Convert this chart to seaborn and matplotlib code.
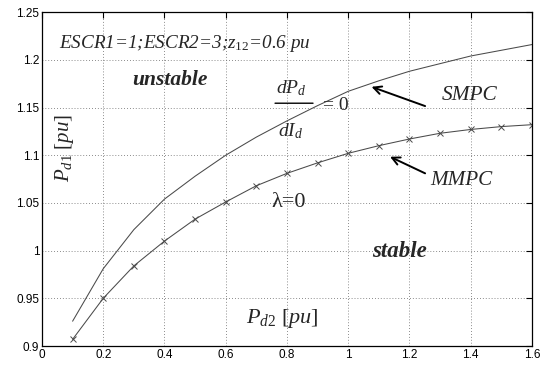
import matplotlib
matplotlib.use("Agg")
import matplotlib.pyplot as plt
import numpy as np
import pandas as pd
import seaborn as sns

# Active power of converter 2 (pu)
pd2 = [0.1, 0.2, 0.3, 0.4, 0.5, 0.6, 0.7, 0.8, 0.9, 1.0, 1.1, 1.2, 1.3, 1.4, 1.5, 1.6]
# Static maximum power curve (dPd/dId = 0)
smpc = [0.926, 0.981, 1.022, 1.054, 1.078, 1.100, 1.119, 1.136, 1.152, 1.167,
        1.178, 1.188, 1.196, 1.204, 1.210, 1.216]
# Modal maximum power curve (lambda = 0)
mmpc = [0.907, 0.950, 0.984, 1.010, 1.033, 1.051, 1.068, 1.081, 1.092, 1.102,
        1.110, 1.117, 1.123, 1.127, 1.130, 1.132]

x_ticks = [0, 0.2, 0.4, 0.6, 0.8, 1.0, 1.2, 1.4, 1.6]
x_labels = ["0", "0.2", "0.4", "0.6", "0.8", "1", "1.2", "1.4", "1.6"]
y_ticks = [0.9, 0.95, 1.0, 1.05, 1.1, 1.15, 1.2, 1.25]
y_labels = ["0.9", "0.95", "1", "1.05", "1.1", "1.15", "1.2", "1.25"]

sns.set_style("white")
plt.rcParams["font.family"] = ["Liberation Sans", "DejaVu Sans"]
plt.rcParams["mathtext.fontset"] = "custom"
plt.rcParams["mathtext.rm"] = "Liberation Serif"
plt.rcParams["mathtext.it"] = "Liberation Serif:italic"
plt.rcParams["mathtext.bf"] = "Liberation Serif:bold:italic"
plt.rcParams["mathtext.default"] = "it"

df = pd.DataFrame({"pd2": pd2 * 2,
                   "pd1": smpc + mmpc,
                   "curve": ["SMPC"] * len(pd2) + ["MMPC"] * len(pd2)})

fig = plt.figure(figsize=(5.48, 3.67), dpi=100)
ax = fig.add_axes([0.0766, 0.0572, 0.8942, 0.9098])

line_col = "#4a4a4a"
sns.lineplot(data=df[df.curve == "SMPC"], x="pd2", y="pd1", ax=ax,
             color=line_col, linewidth=0.75, legend=False)
sns.lineplot(data=df[df.curve == "MMPC"], x="pd2", y="pd1", ax=ax,
             color=line_col, linewidth=0.75, marker="x", markersize=5,
             markeredgewidth=0.7, markeredgecolor=line_col, legend=False)

ax.set_xlim(0, 1.6)
ax.set_ylim(0.9, 1.25)
ax.set_xticks(x_ticks)
ax.set_xticklabels(x_labels)
ax.set_yticks(y_ticks)
ax.set_yticklabels(y_labels)
ax.set_xlabel("")
ax.set_ylabel("")
ax.tick_params(direction="in", length=4, width=0.8, labelsize=8.5,
               top=True, right=True, pad=2, colors="black")
for s in ax.spines.values():
    s.set_visible(True)
    s.set_color("black")
    s.set_linewidth(0.9)
ax.grid(True, linestyle=(0, (1, 2.5)), color="#666666", linewidth=0.6)

serif = ["Liberation Serif", "DejaVu Serif"]

ax.text(0.054, 1.2175, r"ESCR1=1;ESCR2=3;$z_{12}$=0.6 pu", family=serif,
        style="italic", fontsize=13.8, ha="left", va="center")
ax.text(0.418, 1.1787, "unstable", family=serif, style="italic",
        weight="bold", fontsize=15.5, ha="center", va="center")
ax.text(1.169, 0.999, "stable", family=serif, style="italic",
        weight="bold", fontsize=16.5, ha="center", va="center")
ax.text(0.806, 1.05, "λ=0", family=serif, fontsize=16,
        ha="center", va="center")
ax.text(0.0735, 1.108, r"$P_{d1}\ \mathrm{[}pu\mathrm{]}$", fontsize=15,
        rotation=90, ha="center", va="center")
ax.text(0.785, 0.929, r"$P_{d2}\ \mathrm{[}pu\mathrm{]}$", fontsize=16,
        ha="center", va="center")
ax.text(1.396, 1.1625, "SMPC", family=serif, style="italic", fontsize=15.4,
        ha="center", va="center")
ax.text(1.368, 1.0734, "MMPC", family=serif, style="italic", fontsize=15.2,
        ha="center", va="center")

# dPd/dId = 0 label
ax.text(0.813, 1.170, r"$dP_d$", fontsize=14, ha="center", va="center")
ax.annotate("", xy=(0.885, 1.1545), xytext=(0.761, 1.1545),
            arrowprops=dict(arrowstyle="-", color="black", lw=1.0,
                            shrinkA=0, shrinkB=0))
ax.text(0.96, 1.1525, "= 0", family=serif, fontsize=14,
        ha="center", va="center")
ax.text(0.81, 1.125, r"$dI_d$", fontsize=14, ha="center", va="center")

# pointer arrows
ax.annotate("", xy=(1.076, 1.1717), xytext=(1.251, 1.1515),
            arrowprops=dict(arrowstyle="->", color="black", lw=1.4,
                            mutation_scale=14, shrinkA=0, shrinkB=0))
ax.annotate("", xy=(1.1365, 1.0984), xytext=(1.251, 1.081),
            arrowprops=dict(arrowstyle="->", color="black", lw=1.4,
                            mutation_scale=14, shrinkA=0, shrinkB=0))

fig.savefig("out.png", dpi=100)
